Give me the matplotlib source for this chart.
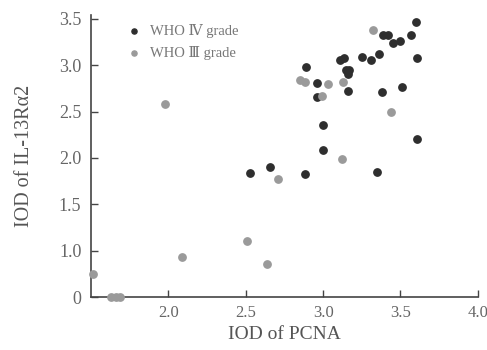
import numpy as np
import matplotlib
matplotlib.use("Agg")
import matplotlib.pyplot as plt

plt.rcParams['font.family'] = ['Liberation Serif', 'DejaVu Serif']

# WHO IV grade (dark points)
iv_x = [3.60, 3.39, 3.42, 3.57, 3.45, 3.50, 3.11, 3.135, 3.25, 3.31, 3.36, 3.61,
        2.89, 3.15, 3.17, 3.16, 2.96, 3.16, 3.38, 3.51, 3.00, 3.00, 3.61,
        2.53, 2.66, 2.88, 3.35, 2.96]
iv_y = [3.46, 3.33, 3.33, 3.32, 3.24, 3.26, 3.06, 3.08, 3.09, 3.06, 3.12, 3.08,
        2.98, 2.95, 2.95, 2.90, 2.81, 2.72, 2.71, 2.76, 2.36, 2.09, 2.20,
        1.84, 1.90, 1.83, 1.85, 2.66]

# WHO III grade (grey points)
iii_x = [3.32, 2.85, 2.88, 3.03, 3.13, 2.99, 3.44, 1.98, 3.12, 2.71,
         2.51, 2.09, 2.64, 1.51, 1.63, 1.66, 1.69]
iii_y = [3.38, 2.84, 2.82, 2.80, 2.82, 2.67, 2.50, 2.58, 1.99, 1.77,
         1.11, 0.93, 0.86, 0.75, 0.0, 0.0, 0.0]

y_ticks = [0, 1.0, 1.5, 2.0, 2.5, 3.0, 3.5]
y_labels = ['0', '1.0', '1.5', '2.0', '2.5', '3.0', '3.5']
x_ticks = [2.0, 2.5, 3.0, 3.5, 4.0]
x_labels = ['2.0', '2.5', '3.0', '3.5', '4.0']


# broken y axis: values below 0.75 squeezed so 0 sits where 0.5 would be
def fwd(y):
    y = np.asarray(y, dtype=float)
    return np.where(y < 0.75, 0.5 + y / 3.0, y)


def inv(z):
    z = np.asarray(z, dtype=float)
    return np.where(z < 0.75, (z - 0.5) * 3.0, z)


fig = plt.figure(figsize=(4.87, 3.5), dpi=100)
ax = fig.add_axes([0.187, 0.151, 0.794, 0.806])
ax.set_yscale('function', functions=(fwd, inv))

ax.scatter(iv_x, iv_y, s=28, c='#2e2e2e', label='WHO Ⅳ grade', clip_on=False, zorder=3)
ax.scatter(iii_x, iii_y, s=28, c='#9a9a9a', label='WHO Ⅲ grade', clip_on=False, zorder=3)

ax.set_xlim(1.5, 4.0)
ax.set_ylim(0, 3.54)
ax.set_xticks(x_ticks)
ax.set_xticklabels(x_labels)
ax.set_yticks(y_ticks)
ax.set_yticklabels(y_labels)
ax.minorticks_off()

for s in ['top', 'right']:
    ax.spines[s].set_visible(False)
for s in ['left', 'bottom']:
    ax.spines[s].set_color('#444444')
    ax.spines[s].set_linewidth(1.2)

ax.tick_params(direction='in', length=5, width=1, colors='#444444',
               labelcolor='#666666', labelsize=13)
ax.tick_params(axis='x', pad=6, labelsize=12)
ax.tick_params(axis='y', pad=7)

ax.set_xlabel('IOD of PCNA', fontsize=14, color='#555555', labelpad=3)
ax.set_ylabel('IOD of IL-13Rα2', fontsize=14.5, color='#555555', labelpad=18)

leg = ax.legend(loc='upper left', frameon=False, fontsize=10.5, handletextpad=0.1,
                borderaxespad=0.2, labelspacing=0.55, markerscale=0.7,
                bbox_to_anchor=(0.05, 1.0))
for t in leg.get_texts():
    t.set_color('#777777')

plt.savefig('out.png', dpi=100)
